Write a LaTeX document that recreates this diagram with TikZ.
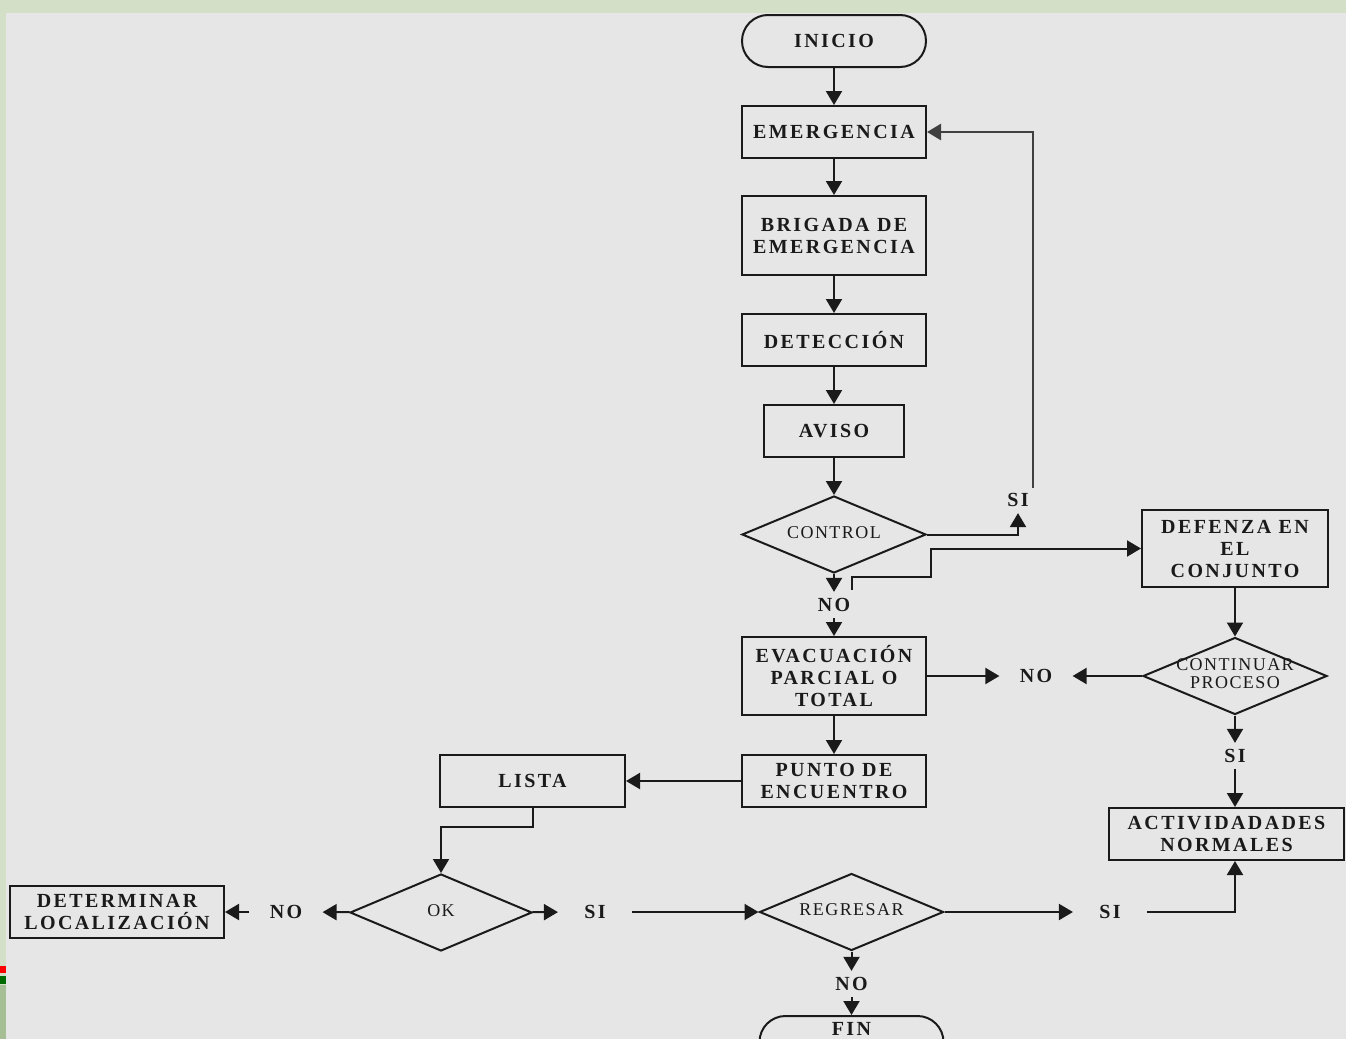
\documentclass[tikz,border=0pt]{standalone}
\usepackage{fontspec}
\setmainfont{Liberation Serif}
\newfontfamily\labfont[LetterSpace=12]{Liberation Serif}
\newfontfamily\diafont[LetterSpace=8]{Liberation Serif}
\usetikzlibrary{arrows.meta,shapes.geometric}
\definecolor{bgc}{HTML}{E6E6E6}
\definecolor{framec}{HTML}{D3DFC7}
\definecolor{framedark}{HTML}{A6BE94}
\definecolor{markred}{HTML}{FF0000}
\definecolor{markgreen}{HTML}{006B00}
\definecolor{ink}{HTML}{1A1A1A}
\definecolor{loopc}{HTML}{404040}
\newcommand\dtext[1]{\makebox[0pt]{\begin{tabular}{@{}c@{}}#1\end{tabular}}}
\begin{document}
\begin{tikzpicture}[x=0.5pt,y=-0.5pt,
  box/.style={draw=ink, line width=1pt, inner sep=0pt, minimum width=92pt, minimum height=26pt,
    align=center, text=ink, font=\labfont\bfseries\fontsize{10}{11}\selectfont},
  term/.style={box, rounded corners=13pt},
  dia/.style={diamond, draw=ink, line width=1pt, inner sep=0pt, minimum width=92pt, minimum height=38.5pt,
    text=ink, font=\diafont\fontsize{9}{9}\selectfont},
  lbl/.style={inner xsep=10pt, inner ysep=3pt, text=ink, font=\labfont\bfseries\fontsize{10}{11}\selectfont},
  arr/.style={draw=ink, line width=1pt, -{Triangle[length=7pt,width=8pt]}},
  ln/.style={draw=ink, line width=1pt}]
\useasboundingbox (0,0) rectangle (1346,1039);
% background and frame
\fill[bgc] (0,0) rectangle (1346,1039);
\fill[framec] (0,0) rectangle (1346,13);
\fill[framec] (0,0) rectangle (6,1039);
\fill[markred] (0,966) rectangle (6,973);
\fill[markgreen] (0,976) rectangle (6,984);
\fill[framedark] (0,985) rectangle (6,1039);

% nodes
\node[term] (inicio) at (834,41) {INICIO};
\node[box] (emerg) at (834,132) {EMERGENCIA};
\node[box, minimum height=39.5pt] (brig) at (834,235.5) {BRIGADA DE\\EMERGENCIA};
\node[box] (detec) at (834,340) {DETECCIÓN};
\node[box, minimum width=70pt] (aviso) at (834,431) {AVISO};
\node[dia] (control) at (834,534.5) {\dtext{CONTROL}};
\node[lbl] (noC) at (834,605) {NO};
\node[lbl] (siC) at (1018,500) {SI};
\node[box, minimum height=39pt] (evac) at (834,676) {EVACUACIÓN\\PARCIAL O\\TOTAL};
\node[box] (punto) at (834,781) {PUNTO DE\\ENCUENTRO};
\node[box, minimum width=92.5pt] (lista) at (532.5,781) {LISTA};
\node[dia, minimum width=91pt] (ok) at (441,912.5) {\dtext{OK}};
\node[lbl] (noOK) at (286,912) {NO};
\node[box, minimum width=107pt] (determ) at (117,912) {DETERMINAR\\LOCALIZACIÓN};
\node[lbl, inner xsep=13pt] (siOK) at (595,912) {SI};
\node[dia] (regr) at (851.5,912) {\dtext{REGRESAR}};
\node[lbl, inner xsep=13pt] (siR) at (1110,912) {SI};
\node[lbl] (noR) at (851.5,984) {NO};
\node[term, anchor=north, text height=7pt, text depth=14pt] (fin) at (851.5,1015) {FIN};
\node[box, minimum width=93pt, minimum height=38.5pt] (defenza) at (1235,548.5) {DEFENZA EN\\EL\\CONJUNTO};
\node[dia] (cont) at (1235,676) {\dtext{CONTINUAR\\PROCESO}};
\node[lbl] (noE) at (1036,676) {NO};
\node[lbl] (siCt) at (1235,756) {SI};
\node[box, minimum width=117.5pt] (activ) at (1226.5,834) {ACTIVIDADADES\\NORMALES};

\coordinate (loopStart) at (1033,488);
\coordinate (defStart) at (852,590);
\coordinate (step1) at (931,577);

% connectors
\draw[arr] (inicio) -- (emerg);
\draw[arr] (emerg) -- (brig);
\draw[arr] (brig) -- (detec);
\draw[arr] (detec) -- (aviso);
\draw[arr] (aviso) -- (control);
\draw[arr] (control) -- (noC);
\draw[arr] (noC) -- (evac);
\draw[arr] (control.east) -| (siC.south);
\draw[arr, draw=loopc, line width=1.3pt] (loopStart) |- (emerg.east);
\draw[arr] (defStart) |- (step1) |- (defenza.west);
\draw[arr] (defenza) -- (cont);
\draw[arr] (cont) -- (noE);
\draw[arr] (evac) -- (noE);
\draw[arr] (cont) -- (siCt);
\draw[arr] (siCt) -- (siCt |- activ.north);
\draw[arr] (evac) -- (punto);
\draw[arr] (punto) -- (lista);
\draw[arr] (lista.south) -- ++(0,19) -| (ok.north);
\draw[arr] (ok) -- (noOK);
\draw[arr] (noOK) -- (determ);
\draw[arr] (ok) -- (siOK);
\draw[arr] (siOK) -- (regr);
\draw[arr] (regr) -- (siR);
\draw[arr] (siR.east) -| (siCt |- activ.south);
\draw[arr] (regr) -- (noR);
\draw[arr] (noR) -- (fin);
\end{tikzpicture}
\end{document}
